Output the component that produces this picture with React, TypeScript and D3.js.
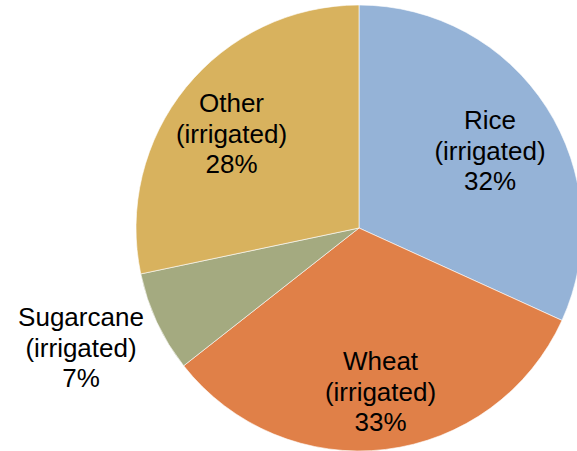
import React from "react";
import * as d3 from "d3";

const categories = ["Rice", "Wheat", "Sugarcane", "Other"];
const values = [31.8, 32.6, 7.3, 28.3];
const subLabels = ["(irrigated)", "(irrigated)", "(irrigated)", "(irrigated)"];
const colors = ["#95B3D7", "#E08048", "#A4AA80", "#D8B25E"];

const W = 577;
const H = 451;
const cx = 359;
const cy = 228;
const R = 223;

// label centre anchors (x, baseline of first line)
const labelPos: [number, number][] = [
  [490, 129],
  [380.5, 370],
  [81, 326],
  [231.5, 112],
];

export default function App() {
  const pie = d3.pie<number>().sort(null).value((d) => d);
  const arcs = pie(values);
  const arc = d3.arc<d3.PieArcDatum<number>>().innerRadius(0).outerRadius(R);
  const total = d3.sum(values);
  return (
    <svg
      width={W}
      height={H}
      style={{ position: "absolute", left: 0, top: 0, display: "block", background: "#fff" }}
    >
      <g transform={`translate(${cx},${cy})`}>
        {arcs.map((a, i) => (
          <path key={i} d={arc(a) || ""} fill={colors[i]} stroke="#ffffff" strokeWidth={0.6} />
        ))}
      </g>
      {categories.map((c, i) => {
        const [x, y] = labelPos[i];
        const pct = Math.round((values[i] / total) * 100) + "%";
        return (
          <text
            key={c}
            x={x}
            y={y}
            textAnchor="middle"
            fontFamily="'Liberation Sans', Arial, sans-serif"
            fontSize={26}
            fill="#000"
          >
            <tspan x={x} y={y}>{c}</tspan>
            <tspan x={x} y={y + 30.5}>{subLabels[i]}</tspan>
            <tspan x={x} y={y + 61}>{pct}</tspan>
          </text>
        );
      })}
    </svg>
  );
}
